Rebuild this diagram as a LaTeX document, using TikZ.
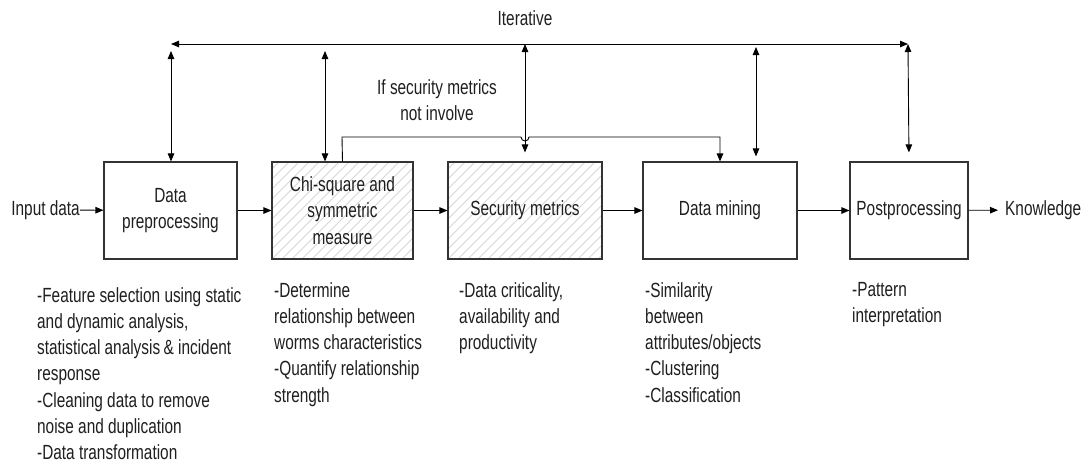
\documentclass[tikz,border=0pt]{standalone}
\usepackage{fontspec}
\setmainfont{Liberation Sans}[FakeStretch=0.75]
\usetikzlibrary{arrows.meta}
\begin{document}
\begin{tikzpicture}[x=1pt,y=-1pt,
  every node/.style={font=\fontsize{20.5}{26.3}\selectfont, text=black!88, inner sep=0pt},
  box/.style={draw=black!80, line width=1.1pt, minimum height=97pt, align=center},
  arr/.style={-{Triangle[length=8pt,width=6.5pt]}, line width=0.9pt},
  dbl/.style={{Triangle[length=8pt,width=6.5pt]}-{Triangle[length=8pt,width=6.5pt]}, line width=0.9pt},
  hatch/.style={draw=black!16, line width=0.8pt},
  note/.style={align=left, anchor=north west}]
\useasboundingbox[fill=white] (0,0) rectangle (1088,467);

% boxes
\node[box, minimum width=133pt] (dp)   at (170.5,210.5) {Data\\preprocessing};
\node[box, minimum width=141pt] (chi)  at (342.5,210.5) {};
\node[box, minimum width=154pt] (sec)  at (525,210.5) {};
\node[box, minimum width=154pt] (dm)   at (720,210.5) {Data mining};
\node[box, minimum width=118pt] (post) at (909,210.5) {Postprocessing};

% hatching
\begin{scope}
\clip (chi.south west) rectangle (chi.north east);
\foreach \i in {-110,-100,...,160} \draw[hatch] ([xshift=\i pt]chi.south west) -- ++(120,-120);
\end{scope}
\begin{scope}
\clip (sec.south west) rectangle (sec.north east);
\foreach \i in {-110,-100,...,170} \draw[hatch] ([xshift=\i pt]sec.south west) -- ++(120,-120);
\end{scope}
\node[box, minimum width=141pt] at (chi) {Chi-square and\\symmetric\\measure};
\node[box, minimum width=154pt] at (sec) {Security metrics};

% side texts
\node[anchor=east] (in) at (80,210) {Input data};
\node[anchor=west] (kn) at (1005,210) {Knowledge};
\node (it) at (525,18) {Iterative};
\node[align=center] (ifs) at (437,100) {If security metrics\\not involve};

% main flow
\draw[arr] (in) -- (dp);
\draw[arr] (dp) -- (chi);
\draw[arr] (chi) -- (sec);
\draw[arr] (sec) -- (dm);
\draw[arr] (dm) -- (post);
\draw[arr, shorten >=7pt] (post) -- (kn);

% iterative loop
\coordinate (tl) at (171,44);
\coordinate (tr) at (908,44);
\draw[dbl] (tl) -- (tr);
\coordinate (dpv) at (171,51);
\coordinate (chiv) at (325,51);
\coordinate (secv) at (525,44);
\coordinate (dmv) at (756,47);
\coordinate (postv) at (908,44);
\draw[dbl] (dpv) -- (dpv |- dp.north);
\draw[dbl] (chiv) -- (chiv |- chi.north);
\draw[dbl, shorten >=9pt] (secv) -- (sec.north);
\draw[dbl, shorten >=5pt] (dmv) -- (dmv |- dm.north);
\draw[dbl, shorten >=9pt] (postv) -- (post.north);

% bypass
\draw[arr] (chi.north) -- (342,137) -- (521,137) arc[start angle=180, end angle=0, radius=4] -- (720,137) -- (dm.north);

% notes
\node[note] (n1) at (37,287) {-Feature selection using static\\and dynamic analysis,\\statistical analysis\,\&\ incident\\response\\-Cleaning data to remove\\noise and duplication\\-Data transformation};
\node[note] (n2) at (274,282) {-Determine\\relationship between\\worms characteristics\\-Quantify relationship\\strength};
\node[note] (n3) at (459,282) {-Data criticality,\\availability and\\productivity};
\node[note] (n4) at (645,282) {-Similarity\\between\\attributes/objects\\-Clustering\\-Classification};
\node[note] (n5) at (852,282) {-Pattern\\interpretation};
\end{tikzpicture}
\end{document}
